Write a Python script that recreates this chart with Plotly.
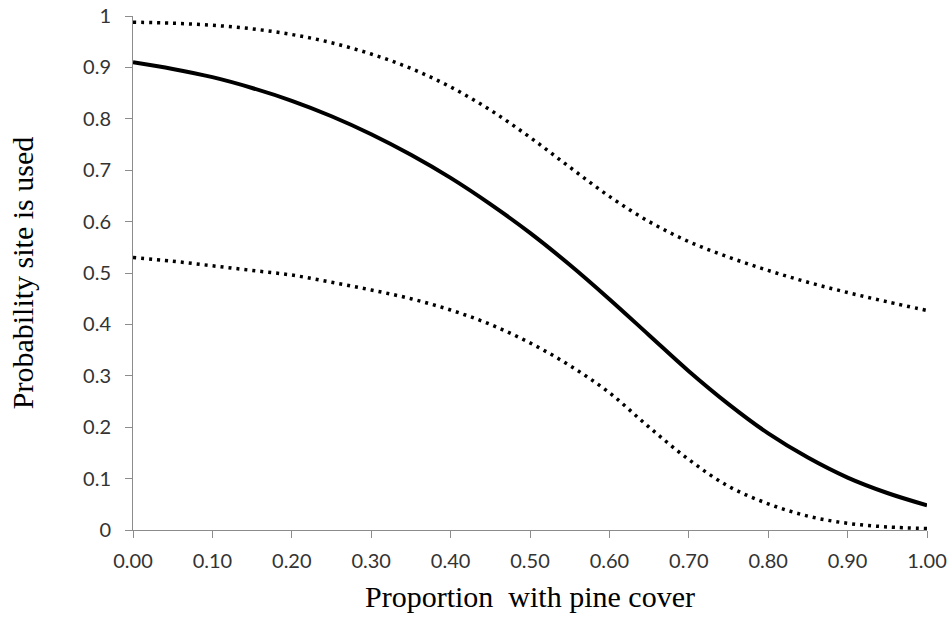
import plotly.graph_objects as go

# ---- data ----
x_vals = [0.00, 0.05, 0.10, 0.15, 0.20, 0.25, 0.30, 0.35, 0.40, 0.45, 0.50,
          0.55, 0.60, 0.65, 0.70, 0.75, 0.80, 0.85, 0.90, 0.95, 1.00]
p_fit = [0.910, 0.897, 0.881, 0.860, 0.835, 0.805, 0.770, 0.730, 0.685, 0.634, 0.578,
         0.516, 0.449, 0.379, 0.309, 0.245, 0.188, 0.141, 0.102, 0.072, 0.048]
p_upper = [0.988, 0.986, 0.982, 0.975, 0.964, 0.948, 0.926, 0.898, 0.862, 0.817, 0.764,
           0.706, 0.649, 0.600, 0.561, 0.531, 0.505, 0.482, 0.462, 0.444, 0.427]
p_lower = [0.530, 0.523, 0.514, 0.505, 0.496, 0.482, 0.467, 0.450, 0.428, 0.400, 0.364,
           0.320, 0.267, 0.200, 0.137, 0.085, 0.051, 0.027, 0.013, 0.006, 0.003]

x_ticks = [0.0, 0.1, 0.2, 0.3, 0.4, 0.5, 0.6, 0.7, 0.8, 0.9, 1.0]
x_tick_labels = ["0.00", "0.10", "0.20", "0.30", "0.40", "0.50",
                 "0.60", "0.70", "0.80", "0.90", "1.00"]
y_ticks = [0.0, 0.1, 0.2, 0.3, 0.4, 0.5, 0.6, 0.7, 0.8, 0.9, 1.0]
y_tick_labels = ["0", "0.1", "0.2", "0.3", "0.4", "0.5",
                 "0.6", "0.7", "0.8", "0.9", "1"]

x_title = "Proportion  with pine cover"
y_title = "Probability site is used"

fig = go.Figure()
dot_line = dict(color="black", width=3.5, dash="3px,5px", shape="spline", smoothing=1)
fig.add_trace(go.Scatter(x=x_vals, y=p_upper, mode="lines", line=dot_line,
                         showlegend=False, hoverinfo="skip"))
fig.add_trace(go.Scatter(x=x_vals, y=p_lower, mode="lines", line=dot_line,
                         showlegend=False, hoverinfo="skip"))
fig.add_trace(go.Scatter(x=x_vals, y=p_fit, mode="lines",
                         line=dict(color="black", width=4, shape="spline", smoothing=1),
                         showlegend=False, hoverinfo="skip"))

axis_common = dict(
    showline=True, linecolor="#8c8c8c", linewidth=1,
    ticks="outside", ticklen=7, tickcolor="#8c8c8c", tickwidth=1,
    showgrid=False, zeroline=False, automargin=False,
    tickfont=dict(family="Lato", size=20, color="#333333"),
)

fig.update_layout(
    width=951, height=617,
    margin=dict(l=133, r=24, t=16, b=87),
    paper_bgcolor="white", plot_bgcolor="white",
    xaxis=dict(range=[0, 1], tickvals=x_ticks, ticktext=x_tick_labels,
               ticklabelstandoff=6,
               title=dict(text=x_title, standoff=14,
                          font=dict(family="Liberation Serif", size=30, color="black")),
               **axis_common),
    yaxis=dict(range=[0, 1], tickvals=y_ticks, ticktext=y_tick_labels,
               ticklabelstandoff=10,
               title=dict(text=y_title, standoff=40,
                          font=dict(family="Liberation Serif", size=30, color="black")),
               **axis_common),
)

fig.write_html("out.html")
